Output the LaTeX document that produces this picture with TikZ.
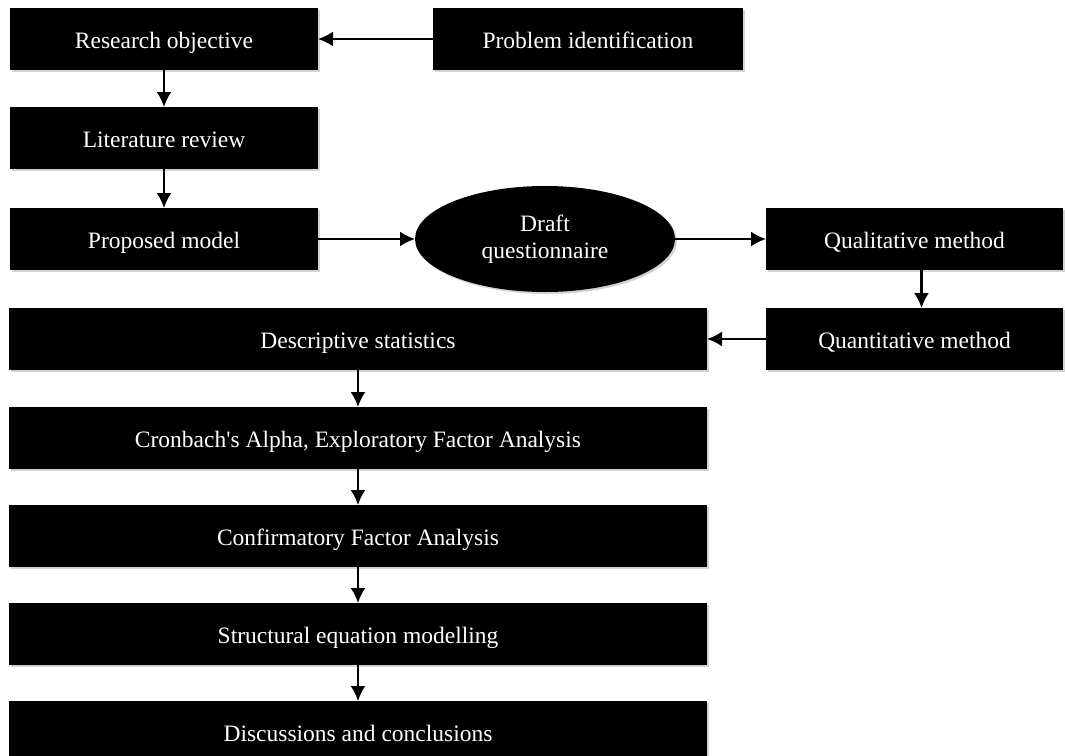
\documentclass[tikz,border=0pt]{standalone}
\usepackage{fontspec}
\setmainfont{Liberation Serif}
\usetikzlibrary{positioning,shapes.geometric,shadows,arrows.meta}

\begin{document}
\begin{tikzpicture}[
    every node/.style={font=\fontsize{23.5}{27}\selectfont,text=white,outer sep=0pt},
    stagebox/.style={rectangle,fill=black,align=center,minimum height=62pt,
      text height=19pt,text depth=1pt,
      inner sep=2pt,drop shadow={opacity=0.35,shadow xshift=2pt,shadow yshift=-2pt}},
    smallbox/.style={stagebox,minimum width=308pt},
    widebox/.style={stagebox,minimum width=698pt},
    draftbox/.style={ellipse,fill=black,align=center,minimum width=260pt,minimum height=106pt,
      inner sep=1pt,drop shadow={opacity=0.35,shadow xshift=2pt,shadow yshift=-2pt}},
    arrow/.style={-{Latex[length=15pt,width=15pt]},line width=2.2pt,black},
  ]
  \useasboundingbox (0,0) rectangle (1065pt,-755pt);
  % top row
  \node[smallbox] (objective) at (164pt,-39pt) {Research objective};
  \node[smallbox,minimum width=310pt,right=115pt of objective] (problem) {Problem identification};
  \draw[arrow] (problem) -- (objective);
  \node[smallbox,below=37pt of objective] (review) {Literature review};
  \draw[arrow] (objective) -- (review);
  \node[smallbox,below=39pt of review] (model) {Proposed model};
  \draw[arrow] (review) -- (model);
  % questionnaire and methods
  \node[draftbox,right=97pt of model] (draft) {Draft\\questionnaire};
  \node[smallbox,minimum width=297pt,right=91pt of draft] (qual) {Qualitative method};
  \draw[arrow] (model) -- (draft);
  \draw[arrow] (draft) -- (qual);
  \node[smallbox,minimum width=297pt,below=38pt of qual] (quan) {Quantitative method};
  \draw[arrow] ([xshift=7pt]qual.south) -- ([xshift=7pt]quan.north);
  % analysis chain
  \node[widebox,left=59pt of quan] (descr) {Descriptive statistics};
  \draw[arrow] (quan) -- (descr);
  \node[widebox,below=37pt of descr] (alpha) {Cronbach\textquotesingle s Alpha, Exploratory Factor Analysis};
  \node[widebox,below=36pt of alpha] (cfa) {Confirmatory Factor Analysis};
  \node[widebox,below=36pt of cfa] (sem) {Structural equation modelling};
  \node[widebox,below=36pt of sem] (concl) {Discussions and conclusions};
  \draw[arrow] (descr) -- (alpha);
  \draw[arrow] (alpha) -- (cfa);
  \draw[arrow] (cfa) -- (sem);
  \draw[arrow] (sem) -- (concl);
\end{tikzpicture}
\end{document}
